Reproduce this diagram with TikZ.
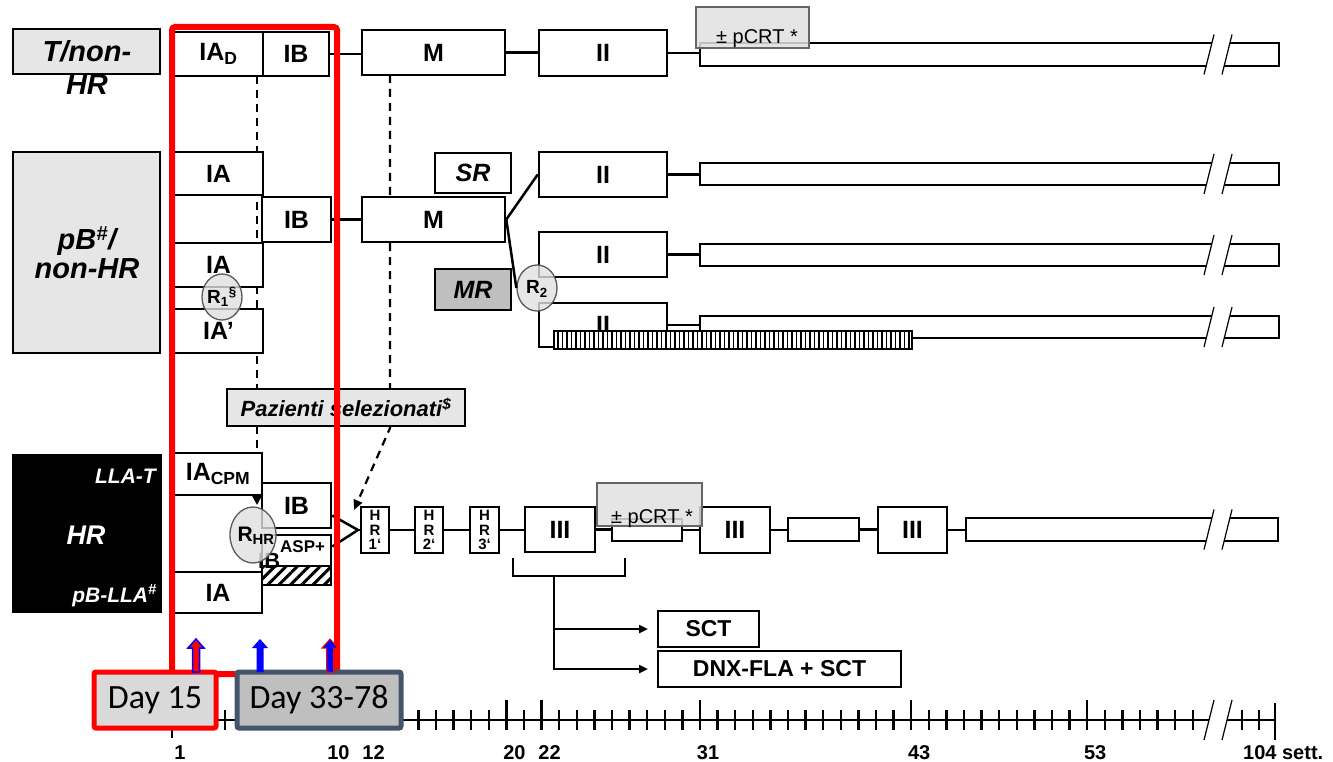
\documentclass[tikz,border=0pt]{standalone}
\usepackage{fontspec}
\setmainfont{Liberation Sans}
\newfontfamily\calibri{Carlito}
\usetikzlibrary{shapes.geometric,arrows.meta,patterns.meta}
\definecolor{slate}{HTML}{44546A}
\definecolor{lgray}{HTML}{E6E6E6}
\definecolor{mgray}{HTML}{BFBFBF}
\definecolor{dgray}{HTML}{D9D9D9}
\tikzset{
  bx/.style={draw, line width=2.6pt, fill=white, inner sep=0pt, font=\bfseries\fontsize{25}{25}\selectfont},
  lbl/.style={inner sep=0pt, font=\bfseries\itshape\fontsize{29}{29}\selectfont},
  conn/.style={line width=2.5pt},
  dashln/.style={line width=2.2pt, dash pattern=on 8pt off 6pt},
  rnd/.style={ellipse, draw=black!65, line width=1.3pt, fill=black!12, fill opacity=0.8, inner sep=0pt},
  rtxt/.style={inner sep=0pt, font=\bfseries\fontsize{19}{19}\selectfont},
  ovl/.style={draw=black!60, line width=1.3pt, fill=black!12, fill opacity=0.85, inner sep=0pt},
  ovltxt/.style={inner sep=0pt, font=\fontsize{20}{20}\selectfont},
  arr/.style={-{Triangle[length=9pt,width=8pt]}},
  tk/.style={line width=2.4pt},
  axlab/.style={inner sep=0pt, font=\bfseries\fontsize{20}{20}\selectfont, anchor=base},
  hrbox/.style={bx, font=\bfseries\fontsize{15}{14.5}\selectfont, align=center, minimum height=46pt},
  hatchbox/.style={draw, line width=2.2pt, preaction={fill=white}, inner sep=0pt},
  brk/.pic={
    \fill[white] (-10.25,13) -- (7.75,13) -- (14.25,-13) -- (-3.75,-13) -- cycle;
    \draw[line width=1.2pt] (-12,20) -- (-2,-20) (6,20) -- (16,-20);
  },
  uparr/.pic={
    \path[pic actions] (-3.5,0) -- (-3.5,-24) -- (-8,-24) -- (0,-33) -- (8,-24) -- (3.5,-24) -- (3.5,0) -- cycle;
  }
}
\begin{document}
\begin{tikzpicture}[x=1pt,y=-1pt]
\useasboundingbox (0,0) rectangle (1333,762);

% dashed guides (behind boxes)
\coordinate (dA) at (257,76);
\coordinate (dAend) at (257,505);
\draw[dashln, -{Triangle[length=9pt,width=9pt]}] (dA) -- (dAend);
\coordinate (dB) at (390,75);
\coordinate (dBk) at (390,428);
\coordinate (dBend) at (354,510);
\draw[dashln, -{Triangle[length=10pt,width=9pt]}] (dB) -- (dBk) -- (dBend);

% ---------- Row 1 : T/non-HR
\node[bx, fill=lgray, minimum width=147pt, minimum height=45pt] (tlab) at (86.5,51.5) {};
\node[lbl, anchor=base] (tlab1) at (87,62) {T/non-};
\node[lbl, anchor=base] (tlab2) at (87,95) {HR};
\node[bx, minimum width=89pt, minimum height=44pt] (iad) at (218.5,54) {IA\textsubscript{D}};
\node[bx, minimum width=66pt, minimum height=44pt] (ib1) at (296,54) {IB};
\node[bx, minimum width=143pt, minimum height=45pt] (m1) at (433.5,52.5) {M};
\node[bx, minimum width=128pt, minimum height=46pt] (ii1) at (603,53) {II};
\node[bx, minimum width=579pt, minimum height=23pt] (bar1) at (989.5,54.5) {};

% ---------- Row 2 : pB/non-HR
\node[bx, fill=lgray, minimum width=147pt, minimum height=201pt] (plab) at (86.5,252.5) {};
\node[lbl, anchor=base] (plab1) at (87,250) {pB\textsuperscript{\#}/};
\node[lbl, anchor=base] (plab2) at (87,278) {non-HR};
\node[bx, minimum width=89pt, minimum height=43pt] (ia2a) at (218.5,173.5) {IA};
\node[bx, minimum width=69pt, minimum height=45pt] (ib2) at (296.5,219.5) {IB};
\node[bx, minimum width=89pt, minimum height=44pt] (ia2b) at (218.5,265) {IA};
\node[bx, minimum width=89pt, minimum height=44pt] (ia2c) at (218.5,331) {IA’};
\node[bx, minimum width=143pt, minimum height=45pt] (m2) at (433.5,219.5) {M};
\node[bx, font=\bfseries\itshape\fontsize{25}{25}\selectfont, minimum width=76pt, minimum height=40pt] (sr) at (473,173) {SR};
\node[bx, fill=mgray, font=\bfseries\itshape\fontsize{25}{25}\selectfont, minimum width=76pt, minimum height=41pt] (mr) at (473,289.5) {MR};
\node[bx, minimum width=128pt, minimum height=45pt] (ii2a) at (603,174.5) {II};
\node[bx, minimum width=579pt, minimum height=22pt] (bar2a) at (989.5,174) {};
\node[bx, minimum width=128pt, minimum height=45pt] (ii2b) at (603,254.5) {II};
\node[bx, minimum width=579pt, minimum height=22pt] (bar2b) at (989.5,255) {};
\node[bx, minimum width=128pt, minimum height=44pt] (ii2c) at (603,325) {II};
\node[bx, minimum width=579pt, minimum height=22pt] (bar2c) at (989.5,327) {};
\node[hatchbox, pattern={Lines[angle=90,distance=4.5pt,line width=1.4pt]}, minimum width=358pt, minimum height=18pt] (hatch2) at (733,340) {};

% Pazienti selezionati
\node[bx, fill=lgray, line width=2pt, font=\bfseries\itshape\fontsize{22}{22}\selectfont, minimum width=238pt, minimum height=37pt] (paz) at (346,407.5) {Pazienti selezionati\textsuperscript{\$}};

% ---------- Row 3 : HR
\node[fill=black, minimum width=150pt, minimum height=159pt, inner sep=0pt] (hrlab) at (87,533.5) {};
\node[lbl, white, anchor=base east, font=\bfseries\itshape\fontsize{21}{21}\selectfont] (llat) at (156,483) {LLA-T};
\node[lbl, white, anchor=base, font=\bfseries\itshape\fontsize{27}{27}\selectfont] (hrt) at (86,544) {HR};
\node[lbl, white, anchor=base east, font=\bfseries\itshape\fontsize{21}{21}\selectfont] (pbl) at (157,602) {pB-LLA\textsuperscript{\#}};
\node[bx, minimum width=88pt, minimum height=42pt] (iacpm) at (218,474) {IA\textsubscript{CPM}};
\node[bx, minimum width=88pt, minimum height=41pt] (ia3) at (218,592.5) {IA};
\node[bx, minimum width=69pt, minimum height=45pt] (ib3) at (296.5,505.5) {IB};
\node[bx, minimum width=69pt, minimum height=31pt] (ibasp) at (296.5,550.5) {};
\node[hatchbox, pattern={Lines[angle=45,distance=8pt,line width=3pt]}, minimum width=69pt, minimum height=19pt] (hatch3) at (296.5,575.5) {};
\node[anchor=base west, inner sep=0pt, font=\bfseries\fontsize{22}{22}\selectfont] (ibaspt) at (258,568) {IB\raisebox{16pt}{\fontsize{17}{17}\selectfont ASP+}};

\node[hrbox, minimum width=28pt] (hr1) at (375,530) {H\\R\\1‘};
\node[hrbox, minimum width=28pt] (hr2) at (429,530) {H\\R\\2‘};
\node[hrbox, minimum width=29pt] (hr3) at (484.5,530) {H\\R\\3‘};
\node[bx, minimum width=70pt, minimum height=45pt] (iii1) at (560,529.5) {III};
\node[bx, minimum width=70pt, minimum height=22pt] (sb1) at (647,530) {};
\node[bx, minimum width=70pt, minimum height=46pt] (iii2) at (735,530) {III};
\node[bx, minimum width=71pt, minimum height=23pt] (sb2) at (823.5,529.5) {};
\node[bx, minimum width=69pt, minimum height=46pt] (iii3) at (912.5,530) {III};
\node[bx, minimum width=312pt, minimum height=23pt] (bar3) at (1122,529.5) {};

% SCT options
\node[bx, line width=2pt, font=\bfseries\fontsize{23}{23}\selectfont, minimum width=101pt, minimum height=36pt] (sct) at (708.5,629) {SCT};
\node[bx, line width=2pt, font=\bfseries\fontsize{23}{23}\selectfont, minimum width=243pt, minimum height=36pt] (dnx) at (779.5,669) {DNX-FLA + SCT};

% ---------- randomisation circles
\node[rnd, minimum width=40pt, minimum height=46pt] (r1) at (222,297) {};
\node[rtxt] (r1t) at (222,297) {R\textsubscript{1}\textsuperscript{§}};
\node[rnd, minimum width=40pt, minimum height=46pt] (r2) at (537,288) {};
\node[rtxt] (r2t) at (537,289) {R\textsubscript{2}};
\node[rnd, minimum width=46pt, minimum height=56pt] (rhr) at (253,535) {};
\node[rtxt, font=\bfseries\fontsize{21}{21}\selectfont] (rhrt) at (256,536) {R\textsubscript{HR}};

% ---------- pCRT overlays
\node[ovl, minimum width=113pt, minimum height=41pt] (pc1) at (752.5,27.5) {};
\node[ovltxt, anchor=base] (pc1t) at (757,44) {± pCRT *};
\node[ovl, minimum width=105pt, minimum height=43pt] (pc2) at (649.5,504.5) {};
\node[ovltxt, anchor=base] (pc2t) at (652,523) {± pCRT *};

% ---------- connectors
\draw[conn] (ib1.east) -- (ib1.east -| m1.west);
\draw[conn] (m1.east) -- (m1.east -| ii1.west);
\draw[conn] (ii1.east) -- (ii1.east -| bar1.west);
\draw[conn] (ib2.east) -- (ib2.east -| m2.west);
\draw[conn] (m2.east) -- (ii2a.west);
\draw[conn] (m2.east) -- (r2.west);
\draw[conn] (ii2a.east) -- (ii2a.east -| bar2a.west);
\draw[conn] (ii2b.east) -- (ii2b.east -| bar2b.west);
\draw[conn] (ii2c.east) -- (ii2c.east -| bar2c.west);
\coordinate (conv) at (358,530);
\draw[conn] ([yshift=-10pt]ib3.east) -- (conv) -- ([yshift=4pt]ibasp.east);
\draw[conn] (conv) -- (hr1.west);
\draw[conn] (hr1.east) -- (hr2.west);
\draw[conn] (hr2.east) -- (hr3.west);
\draw[conn] (hr3.east) -- (hr3.east -| iii1.west);
\draw[conn] (iii1.east) -- (iii1.east -| sb1.west);
\draw[conn] (sb1.east) -- (sb1.east -| iii2.west);
\draw[conn] (iii2.east) -- (iii2.east -| sb2.west);
\draw[conn] (sb2.east) -- (sb2.east -| iii3.west);
\draw[conn] (iii3.east) -- (iii3.east -| bar3.west);
\coordinate (bk1) at (513,558);
\coordinate (bk2) at (513,576);
\coordinate (bk3) at (625,576);
\coordinate (bk4) at (625,558);
\coordinate (bkm) at (554,576);
\draw[conn] (bk1) -- (bk2) -- (bk3) -- (bk4);
\draw[conn, arr, shorten >=9pt] (bkm) |- (dnx.west);
\draw[conn, arr, shorten >=9pt] (bkm |- sct.west) -- (sct.west);

% ---------- breaks on bars
\pic at (1216,54.5) {brk};
\pic at (1216,174) {brk};
\pic at (1216,255) {brk};
\pic at (1216,327) {brk};
\pic at (1216,529.5) {brk};

% ---------- red selection frame
\node[draw=red, line width=6pt, rounded corners=3pt, minimum width=165pt, minimum height=647pt, inner sep=0pt] (sel) at (254.5,350.5) {};

% ---------- time axis
\draw[tk] (172,720) -- (1275,720);
\foreach \w in {2,...,59} \draw[tk] ({172+(\w-1)*17.6},710) -- ++(0,20);
\foreach \w in {10,12,20,22,31,43,53} \draw[tk] ({172+(\w-1)*17.6},700) -- ++(0,30);
\draw[tk] (172,712) -- (172,738);
\draw[tk] (1242,710) -- ++(0,20);
\draw[tk] (1259,710) -- ++(0,20);
\draw[tk] (1275,703) -- (1275,740);
\pic at (1216,720) {brk};
\foreach \w in {1,10,12,20,22,31,43,53} \node[axlab] (wk\w) at ({172+(\w-1)*17.6+8},759) {\w};
\node[axlab, anchor=base west] (wk104) at (1243,759) {104 sett.};

% ---------- day boxes
\node[draw=red, line width=5pt, fill=dgray, rounded corners=2pt, inner sep=0pt, minimum width=122pt, minimum height=56pt, font=\calibri\fontsize{34}{34}\selectfont] (d15) at (155,700) {Day 15};
\node[draw=slate, line width=5pt, fill=mgray, rounded corners=2pt, inner sep=0pt, minimum width=164pt, minimum height=56pt, font=\calibri\fontsize{34}{34}\selectfont] (d33) at (319,700) {Day 33-78};

% ---------- arrows
\pic[fill=red, draw=blue, line width=1.5pt] at (196,672) {uparr};
\pic[fill=blue] at (260,672) {uparr};
\pic[fill=blue, draw=red, line width=1pt] at (330,672) {uparr};
\end{tikzpicture}
\end{document}
